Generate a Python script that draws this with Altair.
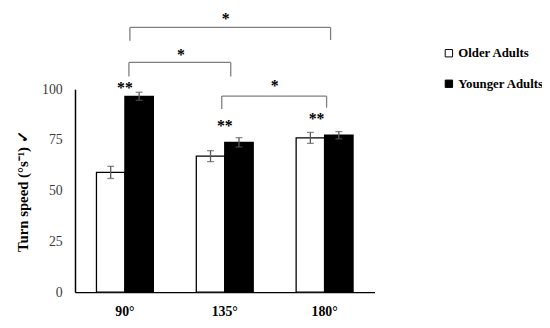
import altair as alt
import pandas as pd

# ---- data ----
angles = ["90°", "135°", "180°"]
groups = ["Older Adults", "Younger Adults"]
older = [59.0, 67.0, 76.0]
younger = [96.5, 73.8, 77.3]
older_err = [3.0, 2.7, 2.7]
younger_err = [2.0, 2.3, 1.8]

# within-angle significance markers (x in category units: angle i spans [i, i+1])
pair_label = ["**", "**", "**"]
pair_x = [0.50, 1.50, 2.42]
pair_y = [100.5, 82.0, 85.4]

# between-angle brackets
br_x1 = [0.55, 0.54, 1.47]
br_x2 = [2.56, 1.56, 2.52]
br_y = [130.4, 113.2, 96.6]
br_left = [123.9, 106.3, 90.2]
br_right = [124.2, 106.3, 90.9]
br_label = ["*", "*", "*"]
br_label_x = [1.51, 1.06, 2.00]
br_label_y = [138.6, 120.7, 105.3]   # top of the label box

y_ticks = [0, 25, 50, 75, 100]

# ---- tables ----
rows = []
for i, a in enumerate(angles):
    for g, v, e in ((groups[0], older[i], older_err[i]), (groups[1], younger[i], younger_err[i])):
        rows.append({"angle": a, "group": g, "value": v, "lo": v - e, "hi": v + e})
bars_df = pd.DataFrame(rows)

seg = []
for i in range(len(br_x1)):
    seg.append({"x": br_x1[i], "x2": br_x2[i], "y": br_y[i], "y2": br_y[i]})
    seg.append({"x": br_x1[i], "x2": br_x1[i], "y": br_left[i], "y2": br_y[i]})
    seg.append({"x": br_x2[i], "x2": br_x2[i], "y": br_right[i], "y2": br_y[i]})
seg_df = pd.DataFrame(seg)
star_df = pd.DataFrame({"x": br_label_x, "y": br_label_y, "t": br_label})
pair_df = pd.DataFrame({"x": pair_x, "y": pair_y, "t": pair_label})

SERIF = "Liberation Serif"
Y_TITLE = "Turn speed (°s⁻¹) ✓"
y_axis = alt.Axis(
    title=Y_TITLE, values=y_ticks, grid=False, ticks=False,
    labelFont=SERIF, labelFontSize=14, labelColor="#3a3a3a", labelPadding=13,
    titleFont=SERIF, titleFontSize=15, titleFontWeight="bold", titleColor="black",
    titlePadding=11, domainColor="black", domainWidth=1.5,
)


def Y(field):
    return alt.Y(field, type="quantitative", scale=alt.Scale(domain=[0, 100], nice=False), axis=y_axis)


x_band = alt.X(
    "angle:N", sort=angles,
    scale=alt.Scale(paddingInner=0.43, paddingOuter=0.215),
    axis=alt.Axis(title=None, labelAngle=0, labelFont=SERIF, labelFontWeight="bold",
                  labelFontSize=14, labelColor="black", ticks=False, labelPadding=13,
                  domainColor="black", domainWidth=1.5),
)
x_off = alt.XOffset("group:N", sort=groups, scale=alt.Scale(paddingInner=0, paddingOuter=0))

base = alt.Chart(bars_df)
bars = base.mark_bar(stroke="black", strokeWidth=1.3).encode(
    x=x_band, xOffset=x_off, y=Y("value"),
    fill=alt.Fill("group:N", sort=groups,
                  scale=alt.Scale(domain=groups, range=["white", "black"]),
                  legend=alt.Legend(title=None, orient="none", legendX=373, legendY=-43,
                                    symbolType="square", symbolSize=56,
                                    symbolStrokeColor="black", symbolStrokeWidth=1,
                                    labelFont=SERIF, labelFontWeight="bold",
                                    labelFontSize=13, labelColor="black",
                                    rowPadding=17, labelOffset=3, padding=0)),
)
err = base.mark_rule(color="#595959", strokeWidth=1.3).encode(
    x=x_band, xOffset=x_off, y=Y("lo"), y2="hi:Q")
cap_lo = base.mark_tick(color="#595959", thickness=1.3, size=7).encode(
    x=x_band, xOffset=x_off, y=Y("lo"))
cap_hi = base.mark_tick(color="#595959", thickness=1.3, size=7).encode(
    x=x_band, xOffset=x_off, y=Y("hi"))

bar_layer = alt.layer(bars, err, cap_lo, cap_hi)

x_q = alt.X("x:Q", scale=alt.Scale(domain=[0, 3], nice=False, zero=False), axis=None)
brackets = alt.Chart(seg_df).mark_rule(color="#7f7f7f", strokeWidth=1.3).encode(
    x=x_q, x2="x2:Q", y=Y("y"), y2="y2:Q")
stars = alt.Chart(star_df).mark_text(font=SERIF, fontSize=16, fontWeight="bold",
                                     baseline="top", color="black").encode(
    x=x_q, y=Y("y"), text="t:N")
pairs = alt.Chart(pair_df).mark_text(font=SERIF, fontSize=16, fontWeight="bold",
                                     baseline="middle", color="black").encode(
    x=x_q, y=Y("y"), text="t:N")
annot_layer = alt.layer(brackets, stars, pairs)

chart = alt.layer(bar_layer, annot_layer).resolve_scale(x="independent").properties(
    width=304, height=206,
    autosize=alt.AutoSizeParams(type="none"),
    padding={"left": 68, "top": 80, "right": 170, "bottom": 34},
).configure_view(strokeWidth=0)

chart.save("out.html", embed_options={"renderer": "svg", "actions": False})
